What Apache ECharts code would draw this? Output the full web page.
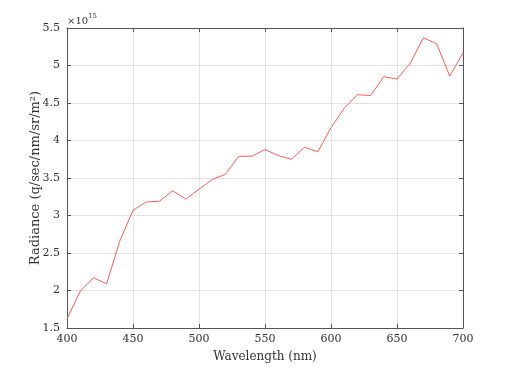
<!DOCTYPE html>
<html><head><meta charset="utf-8">
<script src="https://cdn.jsdelivr.net/npm/echarts@6/dist/echarts.min.js"></script>
<style>html,body{margin:0;padding:0;background:#fff}#c{width:512px;height:369px}</style>
</head><body><div id="c"></div>
<script>
const wavelengths = [400,410,420,430,440,450,460,470,480,490,500,510,520,530,540,550,560,570,580,590,600,610,620,630,640,650,660,670,680,690,700];
const radiance = [1.62,1.99,2.17,2.09,2.66,3.07,3.18,3.19,3.33,3.22,3.35,3.48,3.55,3.79,3.79,3.88,3.80,3.75,3.91,3.85,4.17,4.43,4.61,4.60,4.85,4.82,5.03,5.37,5.29,4.86,5.17];
const xTicks = [400,450,500,550,600,650,700];
const yTicks = [1.5,2,2.5,3,3.5,4,4.5,5,5.5];
const exponentLabel = '×10';
const exponentPower = '15';
const xName = 'Wavelength (nm)';
const yName = 'Radiance (q/sec/nm/sr/m²)';

const font = 'DejaVu Serif';
const axisColor = '#555555';
const chart = echarts.init(document.getElementById('c'));
const L = 67, T = 28, W = 396, H = 300;
const baseAxis = {
  axisLine: {show: true, onZero: false, lineStyle: {color: axisColor, width: 1}},
  axisTick: {show: true, inside: true, length: 4, lineStyle: {color: axisColor}},
  splitLine: {show: false},
  axisLabel: {show: false}
};
chart.setOption({
  animation: false,
  grid: {left: L, top: T, width: W, height: H, containLabel: false},
  graphic: [{
    type: 'text', left: 67, top: 13,
    style: {
      text: '{a|' + exponentLabel + '}{b|' + exponentPower + '}',
      rich: {
        a: {fontFamily: font, fontSize: 10, fill: '#333', verticalAlign: 'bottom'},
        b: {fontFamily: font, fontSize: 7, fill: '#333', verticalAlign: 'top', padding: [0,0,6,0]}
      }
    }
  }],
  xAxis: [{
    ...baseAxis, type: 'value', min: 400, max: 700, interval: 50,
    splitLine: {show: true, lineStyle: {color: '#e3e3e3', width: 1}},
    axisLabel: {show: true, fontFamily: font, fontSize: 11, color: '#333', margin: 6,
      formatter: v => xTicks.includes(v) ? String(v) : ''},
    name: xName, nameLocation: 'middle', nameGap: 23, nameMoveOverlap: false,
    nameTextStyle: {fontFamily: font, fontSize: 12, color: '#333'}
  }, {
    ...baseAxis, type: 'value', position: 'top', min: 400, max: 700, interval: 50
  }],
  yAxis: [{
    ...baseAxis, type: 'value', min: 1.5, max: 5.5, interval: 0.5,
    splitLine: {show: true, lineStyle: {color: '#e3e3e3', width: 1}},
    axisLabel: {show: true, fontFamily: font, fontSize: 11, color: '#333', margin: 7,
      formatter: v => yTicks.includes(v) ? String(v) : ''},
    name: yName, nameLocation: 'middle', nameGap: 25, nameMoveOverlap: false,
    nameTextStyle: {fontFamily: font, fontSize: 13, color: '#333'}
  }, {
    ...baseAxis, type: 'value', position: 'right', min: 1.5, max: 5.5, interval: 0.5
  }],
  series: [{
    type: 'line', xAxisIndex: 0, yAxisIndex: 0,
    data: wavelengths.map((w, i) => [w, radiance[i]]),
    showSymbol: false, symbol: 'none',
    lineStyle: {color: '#ff5a5a', width: 1}
  }]
});
</script></body></html>
